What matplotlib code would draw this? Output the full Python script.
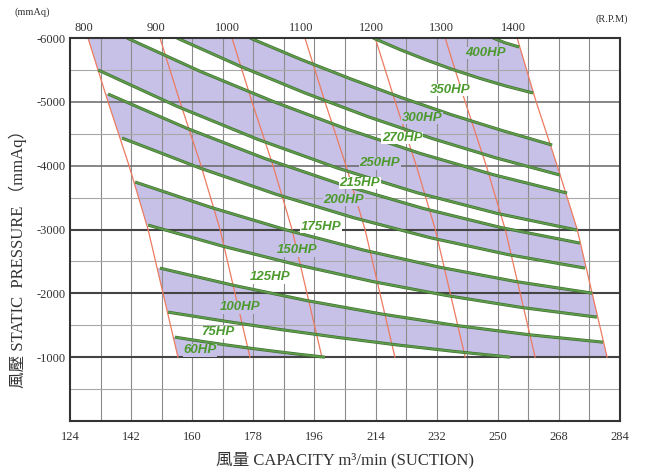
import matplotlib
matplotlib.use('Agg')
import matplotlib.pyplot as plt
import matplotlib.patheffects as pe
from matplotlib.patches import Polygon
from matplotlib.transforms import blended_transform_factory

# ---------------- data ----------------
x_ticks = [124, 142, 160, 178, 196, 214, 232, 250, 268, 286]
x_tick_labels = ['124', '142', '160', '178', '196', '214', '232', '250', '268', '284']
y_ticks = [-6000, -5000, -4000, -3000, -2000, -1000]
y_tick_labels = ['-6000', '-5000', '-4000', '-3000', '-2000', '-1000']

# constant-speed (RPM) lines: capacity at each pressure level
rpm_labels = ['800', '900', '1000', '1100', '1200', '1300', '1400']
rpm_pressure = [-6000, -5000, -4000, -3000, -2000, -1000]
rpm_800 = [129.3, 135.2, 141.4, 147.0, 151.4, 155.8]
rpm_900 = [150.5, 156.4, 162.6, 168.2, 172.6, 177.0]
rpm_1000 = [171.7, 177.6, 183.8, 189.4, 193.8, 198.2]
rpm_1100 = [193.2, 199.1, 205.3, 210.9, 215.3, 219.7]
rpm_1200 = [213.9, 219.8, 226.0, 231.6, 236.0, 240.4]
rpm_1300 = [234.5, 240.4, 246.6, 252.2, 256.6, 261.0]
rpm_1400 = [255.7, 261.3, 267.5, 273.4, 277.8, 282.2]

# constant-power (HP) lines
hp_60_x = [154.9, 162.3, 169.7, 177.0, 184.4, 191.7, 199.1]
hp_60_p = [-1314, -1252, -1194, -1141, -1091, -1044, -1000]
hp_75_x = [152.9, 169.7, 186.4, 203.2, 220.0, 236.8, 253.6]
hp_75_p = [-1705, -1563, -1430, -1307, -1194, -1092, -1000]
hp_100_x = [150.5, 172.3, 194.0, 215.8, 237.5, 259.3, 281.0]
hp_100_p = [-2395, -2124, -1884, -1676, -1498, -1351, -1235]
hp_125_x = [147.0, 169.0, 191.1, 213.1, 235.1, 257.2, 279.2]
hp_125_p = [-3069, -2738, -2444, -2185, -1964, -1777, -1627]
hp_150_x = [143.2, 165.6, 188.0, 210.5, 232.9, 255.3, 277.8]
hp_150_p = [-3743, -3345, -2989, -2677, -2409, -2185, -2003]
hp_175_x = [139.3, 162.1, 184.8, 207.5, 230.2, 253.0, 275.7]
hp_175_p = [-4433, -3966, -3550, -3185, -2870, -2607, -2395]
hp_200_x = [135.2, 158.4, 181.5, 204.7, 227.9, 251.0, 274.2]
hp_200_p = [-5122, -4586, -4110, -3691, -3332, -3030, -2787]
hp_215_x = [132.3, 155.8, 179.3, 202.8, 226.3, 249.8, 273.3]
hp_215_p = [-5498, -4923, -4412, -3962, -3575, -3252, -2991]
hp_250_x = [140.8, 162.4, 184.0, 205.6, 227.2, 248.8, 270.4]
hp_250_p = [-6000, -5476, -5002, -4572, -4191, -3857, -3571]
hp_270_x = [155.5, 174.3, 193.1, 211.9, 230.7, 249.5, 268.3]
hp_270_p = [-6000, -5553, -5141, -4765, -4425, -4121, -3853]
hp_300_x = [177.0, 191.8, 206.7, 221.5, 236.3, 251.2, 266.0]
hp_300_p = [-6000, -5669, -5359, -5069, -4799, -4552, -4323]
hp_350_x = [213.3, 221.1, 229.0, 236.8, 244.7, 252.5, 260.4]
hp_350_p = [-6000, -5820, -5655, -5505, -5368, -5246, -5138]
hp_400_x = [248.6, 252.1, 256.3]
hp_400_p = [-6000, -5926, -5859]

hp_labels = ['60HP', '75HP', '100HP', '125HP', '150HP', '175HP', '200HP',
             '215HP', '250HP', '270HP', '300HP', '350HP', '400HP']
hp_label_x = [162.3, 167.6, 174.1, 182.9, 190.9, 197.9, 204.7, 209.4, 215.3, 221.8, 227.7, 235.9, 246.5]
hp_label_p = [-1110, -1392, -1784, -2254, -2677, -3038, -3461, -3727, -4040, -4432, -4746, -5185, -5765]

# ---------------- styling ----------------
PURPLE = '#c7c1e7'
GREEN_LINE = '#5e9c4a'
GREEN_EDGE = '#3f6e33'
GREEN_TEXT = '#4c9a2e'
RED = '#ec7b60'
SERIF = ['Liberation Serif', 'Noto Sans CJK TC']

rpm_lines = [rpm_800, rpm_900, rpm_1000, rpm_1100, rpm_1200, rpm_1300, rpm_1400]
hp_lines = [(hp_60_x, hp_60_p), (hp_75_x, hp_75_p), (hp_100_x, hp_100_p),
            (hp_125_x, hp_125_p), (hp_150_x, hp_150_p), (hp_175_x, hp_175_p),
            (hp_200_x, hp_200_p), (hp_215_x, hp_215_p), (hp_250_x, hp_250_p),
            (hp_270_x, hp_270_p), (hp_300_x, hp_300_p), (hp_350_x, hp_350_p),
            (hp_400_x, hp_400_p)]

fig = plt.figure(figsize=(6.45, 4.75), dpi=100)
ax = fig.add_axes([70 / 645, 1 - 421 / 475, 550 / 645, 383 / 475])
ax.set_xlim(x_ticks[0], x_ticks[-1])
ax.set_ylim(0, -6000)

# operating envelope (between slowest and fastest speed lines)
env_pts = list(zip(rpm_800, rpm_pressure)) + list(zip(rpm_1400[::-1], rpm_pressure[::-1]))
envelope = Polygon(env_pts, closed=True, transform=ax.transData)


def band_polygon(ux, up, lx, lp):
    pts = list(zip(ux, up))
    pts.append((ux[-1] + 30, up[-1] + 300))
    pts.append((lx[-1] + 30, lp[-1] + 300))
    pts += list(zip(lx[::-1], lp[::-1]))
    pts.append((lx[0] - 30, lp[0] - 300))
    pts.append((ux[0] - 30, up[0] - 300))
    return pts


bottom_x = [rpm_800[-1], rpm_1400[-1]]
bottom_p = [rpm_pressure[-1], rpm_pressure[-1]]
band_colors = {}
poly = Polygon(band_polygon(hp_60_x, hp_60_p, bottom_x, bottom_p), closed=True,
               facecolor=PURPLE, edgecolor='none', zorder=1)
ax.add_patch(poly)
poly.set_clip_path(envelope)
band_colors[0] = PURPLE
for i in range(1, len(hp_lines)):
    ux, up = hp_lines[i]
    lx, lp = hp_lines[i - 1]
    if i % 2 == 0:
        poly = Polygon(band_polygon(ux, up, lx, lp), closed=True,
                       facecolor=PURPLE, edgecolor='none', zorder=1)
        ax.add_patch(poly)
        poly.set_clip_path(envelope)
        band_colors[i] = PURPLE
    else:
        band_colors[i] = 'white'

# grid
for k in range(1, 18):
    ax.axvline(x_ticks[0] + 9 * k, color='#8c8c8c', lw=0.8, zorder=2)
for k in range(1, 12):
    v = -500 * k
    if v in (-1000, -2000, -3000):
        ax.axhline(v, color='#444444', lw=1.5, zorder=2)
    elif v in (-4000, -5000):
        ax.axhline(v, color='#666666', lw=1.1, zorder=2)
    else:
        ax.axhline(v, color='#a8a8a8', lw=0.8, zorder=2)

# RPM lines
for xs in rpm_lines:
    ax.plot(xs, rpm_pressure, color=RED, lw=0.9, zorder=3)

# HP lines (dark rim, lighter core)
for xs, ps in hp_lines:
    ax.plot(xs, ps, color=GREEN_LINE, lw=1.3, zorder=4, solid_capstyle='butt',
            path_effects=[pe.Stroke(linewidth=2.2, foreground=GREEN_EDGE), pe.Normal()])

# HP labels
for i, (lab, lx_, lp_) in enumerate(zip(hp_labels, hp_label_x, hp_label_p)):
    ax.text(lx_, lp_, lab, color=GREEN_TEXT, fontsize=9.5, fontweight='bold',
            fontstyle='italic', family=['Liberation Sans', 'DejaVu Sans'],
            ha='center', va='center', zorder=5,
            bbox=dict(facecolor=band_colors[i], edgecolor='none', pad=0.3))

# RPM labels along the top
trans = blended_transform_factory(ax.transData, ax.transAxes)
for lab, xs in zip(rpm_labels, rpm_lines):
    ax.text(xs[0] - 1.2, 1.027, lab, transform=trans, ha='center', va='center',
            fontsize=9, family=SERIF, color='#333333')

ax.set_xticks(x_ticks)
ax.set_xticklabels(x_tick_labels, family=SERIF, fontsize=9, color='#333333')
ax.set_yticks(y_ticks)
ax.set_yticklabels(y_tick_labels, family=SERIF, fontsize=9, color='#333333')
ax.tick_params(length=0)
ax.tick_params(axis='x', pad=7)
ax.tick_params(axis='y', pad=3)
for s in ax.spines.values():
    s.set_color('#333333')
    s.set_linewidth(1.5)
    s.set_zorder(6)

fig.text(32 / 645, 1 - 12 / 475, '(mmAq)', ha='center', va='center',
         fontsize=7.5, family=SERIF, color='#333333')
fig.text(612 / 645, 1 - 19 / 475, '(R.P.M)', ha='center', va='center',
         fontsize=7.5, family=SERIF, color='#333333')
fig.text(345 / 645, 1 - 460 / 475, '風量 CAPACITY m³/min (SUCTION)', ha='center', va='center',
         fontsize=12, family=SERIF, color='#333333')
fig.text(18 / 645, 1 - 255 / 475, '風壓 STATIC  PRESSURE （mmAq）', ha='center', va='center',
         rotation=90, fontsize=12, family=SERIF, color='#333333')

fig.savefig('out.png', dpi=100, facecolor='white')
